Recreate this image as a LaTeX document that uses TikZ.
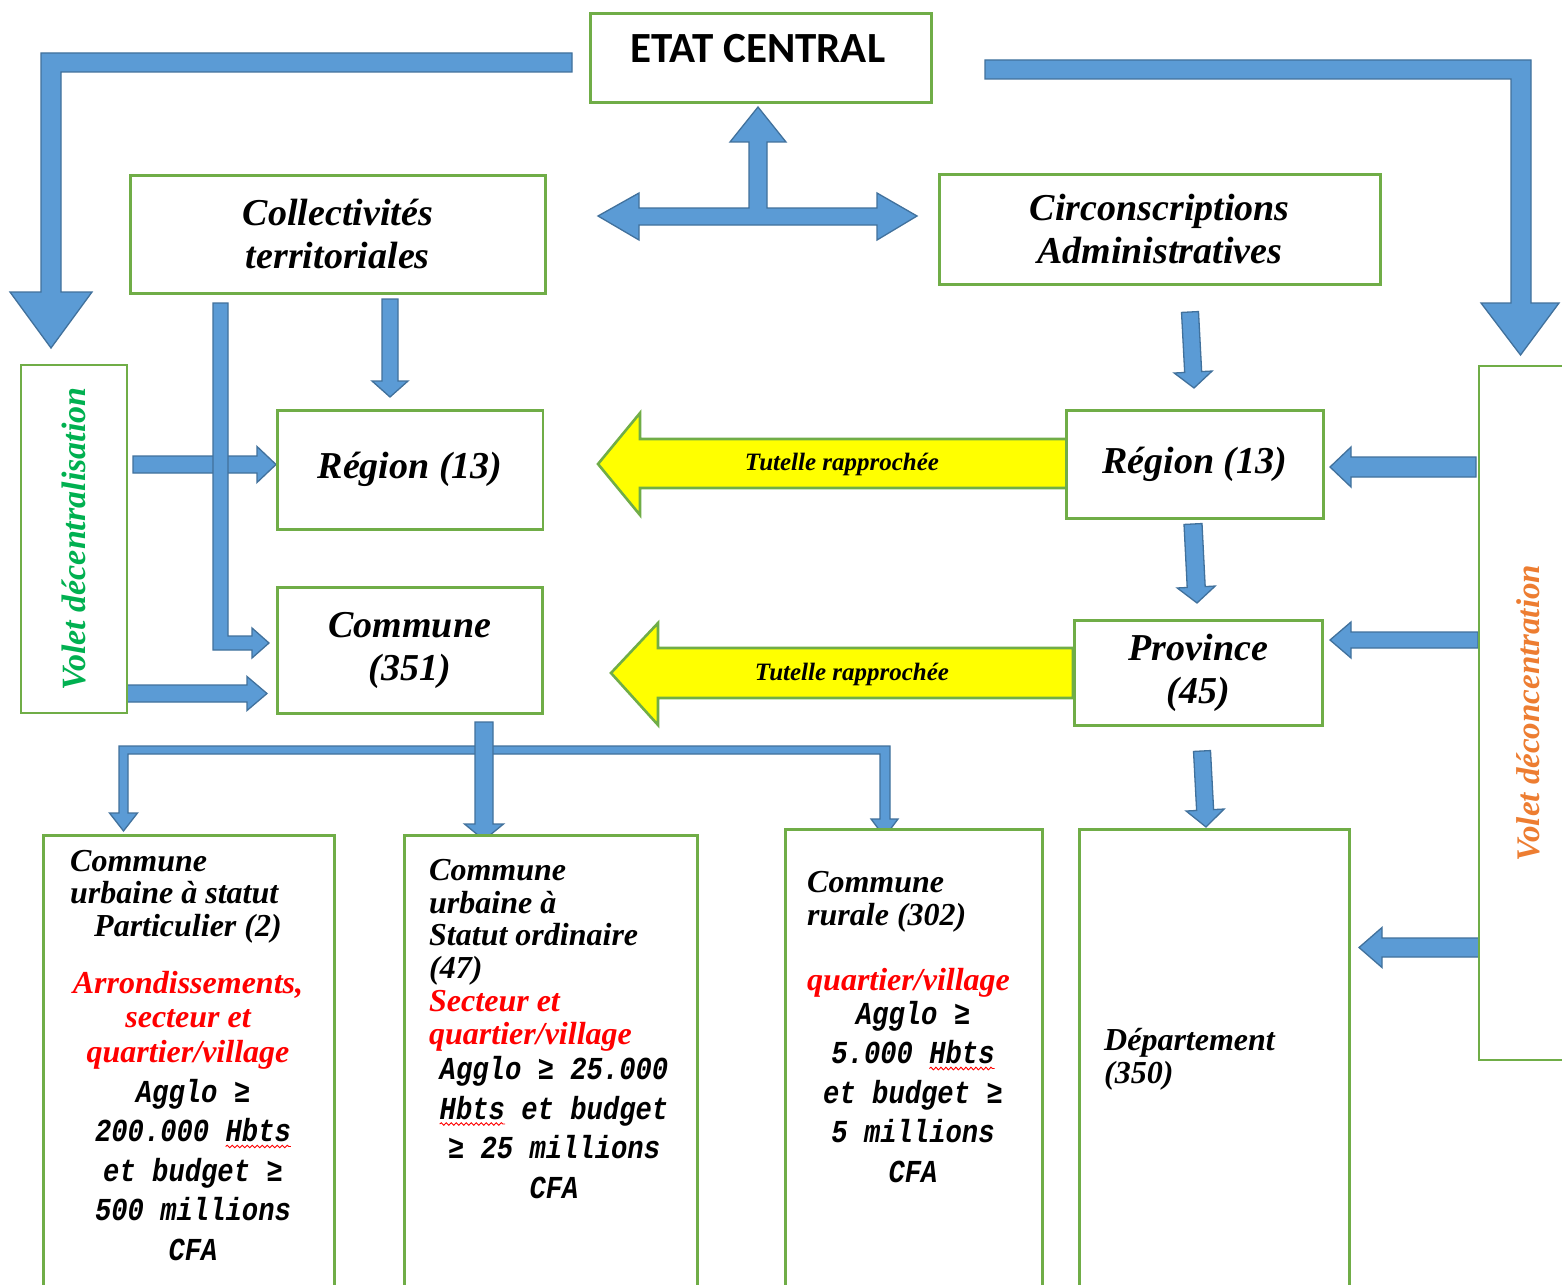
\documentclass[tikz,border=0pt]{standalone}
\usepackage{fontspec}
\setmainfont{Liberation Serif}
\newfontfamily\calib{Carlito}
\newfontfamily\monof[FakeStretch=0.85]{Liberation Mono}
\usetikzlibrary{calc,decorations.pathmorphing}
\definecolor{bgreen}{HTML}{70AD47}
\definecolor{bfill}{HTML}{5B9BD5}
\definecolor{bborder}{HTML}{41719C}
\definecolor{tgreen}{HTML}{00B050}
\definecolor{torange}{HTML}{ED7D31}
\definecolor{tred}{HTML}{FF0000}
\definecolor{yfill}{HTML}{FFFF00}
\newsavebox\wavebox
\newcommand\redwave[1]{\sbox\wavebox{#1}\edef\wavew{\the\wd\wavebox}%
  \tikz[baseline=0pt,x=1pt,y=1pt,overlay]\draw[tred,line width=0.9pt,decorate,
   decoration={snake,amplitude=1.3pt,segment length=5pt}] (0pt,-5pt) -- (\wavew,-5pt);%
  \usebox\wavebox}
% straight block arrow: from, to, half shaft, half head, head length
\newcommand\barrow[5]{%
  \path (#1); \pgfgetlastxy{\ax}{\ay}%
  \path (#2); \pgfgetlastxy{\bx}{\by}%
  \pgfmathsetmacro\bang{atan2((\by)-(\ay),(\bx)-(\ax))}%
  \pgfmathsetmacro\blen{veclen((\bx)-(\ax),(\by)-(\ay))}%
  \begin{scope}[shift={(\ax,\ay)},rotate=\bang]
    \draw[barrowstyle] (0,-#3) -- (\blen-#5,-#3) -- (\blen-#5,-#4) -- (\blen,0)
      -- (\blen-#5,#4) -- (\blen-#5,#3) -- (0,#3) -- cycle;
  \end{scope}}
\begin{document}
\begin{tikzpicture}[x=1pt,y=-1pt,
  box/.style={draw=bgreen, line width=2.6pt, fill=white, inner sep=0pt, align=center, anchor=north west},
  barrowstyle/.style={fill=bfill, draw=bborder, line width=1.3pt, line join=miter},
  yarrow/.style={fill=yfill, draw=bgreen, line width=2.6pt, line join=miter},
  bigtxt/.style={font=\bfseries\itshape\fontsize{38}{43}\selectfont},
  smtxt/.style={inner sep=0pt, font=\bfseries\itshape\fontsize{32}{32.5}\selectfont},
  redtxt/.style={inner sep=0pt, text=tred, font=\bfseries\itshape\fontsize{32}{34.5}\selectfont},
  monotxt/.style={inner sep=0pt, align=center, font=\monof\bfseries\itshape\fontsize{32}{39.5}\selectfont},
  tuttxt/.style={inner sep=0pt, font=\bfseries\itshape\fontsize{25}{28}\selectfont}]
\useasboundingbox (0,0) rectangle (1562,1284);
\fill[white] (0,0) rectangle (1562,1284);
\clip (0,0) rectangle (1562,1284);

% ---- big L arrows from the state
\draw[barrowstyle] (572,53) -- (41,53) -- (41,292) -- (10,292) -- (51,348) -- (92,292)
  -- (61,292) -- (61,72) -- (572,72) -- cycle;
\draw[barrowstyle] (985,60) -- (1531,60) -- (1531,303) -- (1559,303) -- (1520.5,355)
  -- (1481,303) -- (1511,303) -- (1511,79) -- (985,79) -- cycle;
% ---- three-headed arrow under the state
\draw[barrowstyle] (598,216) -- (639,193) -- (639,208) -- (749,208) -- (749,142) -- (730,142)
  -- (758,107) -- (786,142) -- (767,142) -- (767,208) -- (877,208) -- (877,193) -- (917,216)
  -- (877,240) -- (877,225) -- (639,225) -- (639,240) -- cycle;

% ---- left side arrows
\coordinate (vdR1) at (133,464.5); \coordinate (regLw) at (276,464.5);
\barrow{vdR1}{regLw}{8.5}{18}{19}
\draw[barrowstyle] (213,303) -- (228,303) -- (228,636) -- (252,636) -- (252,628) -- (269,643)
  -- (252,658) -- (252,650) -- (213,650) -- cycle;
\coordinate (colS) at (390,299); \coordinate (regLn) at (390,397);
\barrow{colS}{regLn}{8}{18}{16}
\coordinate (vdC1) at (127,693.5); \coordinate (comw) at (267,693.5);
\barrow{vdC1}{comw}{8.5}{17}{20}

% ---- tree below commune
\draw[barrowstyle] (119,746) -- (890,746) -- (890,819) -- (898,819) -- (884.5,837) -- (871,819)
  -- (880,819) -- (880,754) -- (128,754) -- (128,813) -- (137.5,813) -- (123.5,831)
  -- (109.5,813) -- (119,813) -- cycle;
\coordinate (comS) at (484,722); \coordinate (b2n) at (484,840);
\barrow{comS}{b2n}{9}{19.5}{16}

% ---- right side arrows
\coordinate (circS) at (1190,312); \coordinate (regRn) at (1194,388);
\barrow{circS}{regRn}{8.5}{19}{16}
\coordinate (regRs) at (1193,524); \coordinate (provn) at (1197,603);
\barrow{regRs}{provn}{9}{19}{16}
\coordinate (provs) at (1202,751); \coordinate (depn) at (1206,827);
\barrow{provs}{depn}{8.5}{19}{17}
\coordinate (vc1) at (1476,467); \coordinate (regRe) at (1330,467);
\barrow{vc1}{regRe}{10}{20}{21}
\coordinate (vc2) at (1478,640); \coordinate (prove) at (1330,640);
\barrow{vc2}{prove}{8}{18}{21}
\coordinate (vc3) at (1480,947.5); \coordinate (depe) at (1359,947.5);
\barrow{vc3}{depe}{9.5}{20}{23}

% ---- yellow "tutelle" arrows
\draw[yarrow] (1067,439) -- (640,439) -- (640,413) -- (598,464) -- (640,515) -- (640,488) -- (1067,488) -- cycle;
\draw[yarrow] (1073,648) -- (658,648) -- (658,623) -- (611,673) -- (658,725) -- (658,698) -- (1073,698) -- cycle;
\node[tuttxt] (tut1) at (842,464) {Tutelle rapprochée};
\node[tuttxt] (tut2) at (852,674) {Tutelle rapprochée};

% ---- boxes
\node[box, minimum width=341pt, minimum height=89pt] (etat) at (589,12) {};
\node[inner sep=0pt, anchor=base, font=\calib\bfseries\fontsize{43}{46}\selectfont] (etatlbl) at (758,63) {ETAT CENTRAL};
\node[box, bigtxt, minimum width=415pt, minimum height=118pt] (collec) at (129,174) {Collectivités\\territoriales};
\node[box, bigtxt, minimum width=441pt, minimum height=110pt] (circ) at (938,173) {Circonscriptions\\Administratives};
\node[box, bigtxt, minimum width=265.5pt, minimum height=119pt] (regL) at (276,409) {Région (13)};
\node[box, bigtxt, minimum width=265pt, minimum height=126pt] (comm) at (276,586) {Commune\\(351)};
\node[box, bigtxt, minimum width=257pt, minimum height=108pt] (regR) at (1065,409) {Région (13)};
\node[box, bigtxt, minimum width=248pt, minimum height=105pt] (prov) at (1073,619) {Province\\(45)};
\node[box, anchor=center, rotate=90, minimum width=348pt, minimum height=106pt, text=tgreen,
  font=\bfseries\itshape\fontsize{34}{38}\selectfont] (vdec) at (74,539) {Volet décentralisation};
\node[box, anchor=center, rotate=90, minimum width=694pt, minimum height=98pt, text=torange,
  font=\bfseries\itshape\fontsize{33}{38}\selectfont] (vdeco) at (1528,713) {Volet déconcentration};

\node[box, minimum width=291pt, minimum height=500pt] (b1) at (42,834) {};
\node[box, minimum width=293pt, minimum height=500pt] (b2) at (403,834) {};
\node[box, minimum width=257pt, minimum height=500pt] (b3) at (784,828) {};
\node[box, minimum width=270pt, minimum height=500pt] (b4) at (1078,828) {};

% ---- texts of the bottom boxes (anchor base = baseline of the last line)
\node[smtxt, align=left, anchor=base west] (b1t) at (70,936) {Commune\\urbaine à statut\\\hspace*{24pt}Particulier (2)};
\node[redtxt, align=center, anchor=base] (b1r) at (188,1062) {Arrondissements,\\secteur et\\quartier/village};
\node[monotxt, anchor=base] (b1m) at (193,1260) {Agglo ≥\\200.000 \redwave{Hbts}\\et budget ≥\\500 millions\\CFA};

\node[smtxt, align=left, anchor=base west] (b2t) at (429,978) {Commune\\urbaine à\\Statut ordinaire\\(47)};
\node[redtxt, align=left, anchor=base west, font=\bfseries\itshape\fontsize{32}{32.5}\selectfont] (b2r) at (429,1044) {Secteur et\\quartier/village};
\node[monotxt, anchor=base] (b2m) at (554,1198) {Agglo ≥ 25.000\\\redwave{Hbts} et budget\\≥ 25 millions\\CFA};

\node[smtxt, align=left, anchor=base west, font=\bfseries\itshape\fontsize{32}{33}\selectfont] (b3t) at (807,925) {Commune\\rurale (302)};
\node[redtxt, anchor=base west] (b3r) at (807,990) {quartier/village};
\node[monotxt, anchor=base] (b3m) at (913,1182) {Agglo ≥\\5.000 \redwave{Hbts}\\et budget ≥\\5 millions\\CFA};

\node[smtxt, align=left, anchor=base west, font=\bfseries\itshape\fontsize{32}{33}\selectfont] (b4t) at (1104,1083) {Département\\(350)};
\end{tikzpicture}
\end{document}
